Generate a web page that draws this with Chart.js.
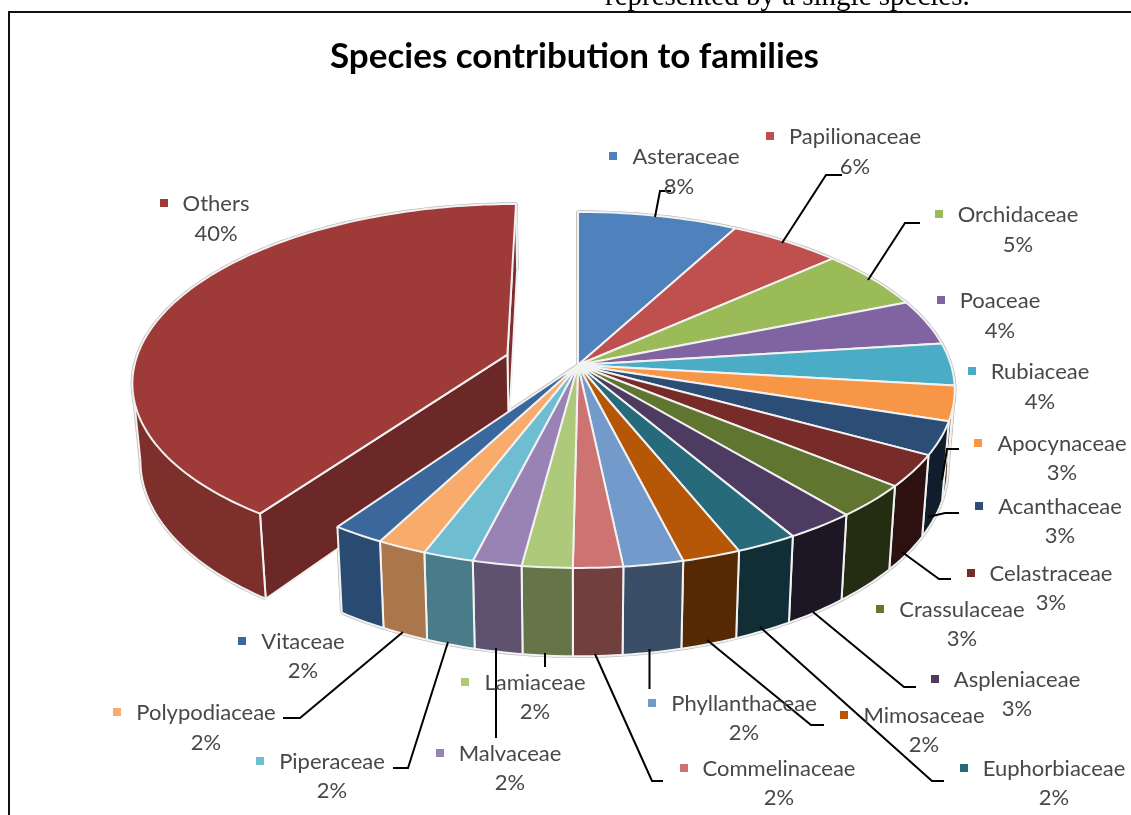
<!DOCTYPE html>
<html>
<head>
<meta charset="utf-8">
<title>Species contribution to families</title>
<style>
  html, body { margin: 0; padding: 0; background: #fff; overflow: hidden; }
  #wrap { position: relative; width: 1131px; height: 815px; }
</style>
<script src="https://cdn.jsdelivr.net/npm/chart.js@4/dist/chart.umd.min.js"></script>
</head>
<body>
<div id="wrap"><canvas id="pie"></canvas></div>
<script>
const families = ['Asteraceae', 'Papilionaceae', 'Orchidaceae', 'Poaceae', 'Rubiaceae', 'Apocynaceae', 'Acanthaceae',
    'Celastraceae', 'Crassulaceae', 'Aspleniaceae', 'Euphorbiaceae', 'Mimosaceae', 'Phyllanthaceae', 'Commelinaceae',
    'Lamiaceae', 'Malvaceae', 'Piperaceae', 'Polypodiaceae', 'Vitaceae', 'Others'];
const shares = [7.85, 5.55, 5.45, 4.15, 3.85, 3.15, 3.0, 2.9, 3.0, 2.65, 2.32, 2.21, 2.25, 1.86, 1.89, 1.84, 1.91, 1.87, 1.97, 40.33];
const sliceColors = ['#4f81bd', '#c0504d', '#9bbb59', '#8064a2', '#4bacc6', '#f79646', '#2c4d75', '#772c2a', '#5f7530',
    '#4d3b62', '#276a7c', '#b65708', '#729aca', '#cd7371', '#afc97a', '#9983b5', '#6fbdd1', '#f9ab6b', '#3a679c', '#9e3b38'];

// where each label sits: name centre x, name y, percent centre x, percent y
const labelSpots = {
    Asteraceae: [686, 157, 679, 187], Papilionaceae: [855, 137, 855, 167], Orchidaceae: [1018, 215, 1018, 245],
    Poaceae: [1000, 301, 1000, 331], Rubiaceae: [1040, 372, 1040, 402], Apocynaceae: [1062, 444, 1062, 473],
    Acanthaceae: [1060, 507, 1060, 536], Celastraceae: [1051, 574, 1051, 603], Crassulaceae: [962, 610, 962, 639],
    Aspleniaceae: [1017, 680, 1017, 709], Euphorbiaceae: [1054, 769, 1054, 798], Mimosaceae: [924, 716, 924, 745],
    Phyllanthaceae: [744, 704, 744, 733], Commelinaceae: [779, 769, 779, 798], Lamiaceae: [535, 683, 535, 712],
    Malvaceae: [510, 754, 510, 783], Piperaceae: [332, 762, 332, 791], Polypodiaceae: [206, 713, 206, 743],
    Vitaceae: [303, 642, 303, 671], Others: [216, 204, 216, 234]
};

// leader lines from the pie to the labels
const leaders = [
    [[655, 217], [660, 191], [671, 191]],
    [[782, 243], [826, 175], [842, 175]],
    [[868, 280], [905, 223], [920, 223]],
    [[942, 480], [947, 449], [959, 449]],
    [[928, 517], [945, 513], [959, 513]],
    [[902, 552], [939, 579], [951, 579]],
    [[813, 612], [904, 687], [916, 687]],
    [[760, 627], [932, 781], [944, 781]],
    [[707, 640], [811, 725], [824, 725]],
    [[649.5, 649], [649.5, 689]],
    [[595, 654], [652, 781], [663, 781]],
    [[545, 653], [545, 667]],
    [[496, 648], [496, 738]],
    [[448, 642], [408, 768], [393, 768]],
    [[403, 632], [300, 718], [283, 718]]
];

// the pie is a unit disc seen from above through a small perspective
const CAM = { cx: 578, cy: 365, rx: 373, ry: 174.5, k: 0.14, drop: 76, taper: 0.018 };
const EXPLODE = 0.2;
const EDGE = '#f2f2f2';
const FRINGE = '#bdbdbd';

function project(u, v, bottom) {
    const w = 1 + CAM.k * v;
    let x = CAM.cx + CAM.rx * u / w;
    let y = CAM.cy - CAM.ry * v / w;
    if (bottom) {
        x = CAM.cx + (x - CAM.cx) * (1 - CAM.taper);
        y += CAM.drop / w;
    }
    return [x, y];
}

function rim(a0, a1, shift, bottom) {
    const steps = Math.max(2, Math.ceil(Math.abs(a1 - a0) / 0.02));
    const pts = [];
    for (let i = 0; i <= steps; i++) {
        const a = a0 + (a1 - a0) * i / steps;
        pts.push(project(Math.cos(a) + shift[0], -Math.sin(a) + shift[1], bottom));
    }
    return pts;
}

function tracePath(ctx, pts, closed) {
    ctx.beginPath();
    pts.forEach((p, i) => i ? ctx.lineTo(p[0], p[1]) : ctx.moveTo(p[0], p[1]));
    if (closed) ctx.closePath();
}

function fillPoly(ctx, pts, fill) {
    tracePath(ctx, pts, true);
    ctx.fillStyle = fill;
    ctx.fill();
    ctx.strokeStyle = EDGE;
    ctx.lineWidth = 2;
    ctx.stroke();
}

function shade(hex, f) {
    const n = parseInt(hex.slice(1), 16);
    const c = [n >> 16, (n >> 8) & 255, n & 255].map(v => Math.round(v * f));
    return `rgb(${c[0]},${c[1]},${c[2]})`;
}

// the wall gets lighter toward the left, as in the office 3d pie
function wallFactor(midAngle) {
    const deg = (midAngle + Math.PI / 2) * 180 / Math.PI;
    return Math.min(0.76, Math.max(0.38, 0.38 + 0.0052 * (deg - 145)));
}

// outline of a wall: visible bottom rim, both ends and, where the wall turns away, the tangent line
function wallEdges(el, shift) {
    const top = rim(el.startAngle, el.endAngle, shift, false);
    const low = rim(el.startAngle, el.endAngle, shift, true);
    const n = top.length - 1;
    const right = top[0][0] > CAM.cx;
    let far = 0;
    top.forEach((p, i) => {
        if (right ? p[0] > top[far][0] : p[0] < top[far][0]) far = i;
    });
    const inside = far > 0 && far < n;
    const seen = !inside ? low : (right ? low.slice(far) : low.slice(0, far + 1));
    const edges = [seen, [top[0], low[0]], [top[n], low[n]]];
    if (inside) edges.push([top[far], low[far]]);
    return edges;
}

function area(pts) {
    return pts.reduce((sum, p, i) => {
        const q = pts[(i + 1) % pts.length];
        return sum + p[0] * q[1] - q[0] * p[1];
    }, 0);
}

// one path of same-way-round quads, so the part past the tangent point is covered with no seams
function drawWall(ctx, el, shift, color) {
    const top = rim(el.startAngle, el.endAngle, shift, false);
    const low = rim(el.startAngle, el.endAngle, shift, true);
    ctx.beginPath();
    for (let i = 0; i < top.length - 1; i++) {
        const quad = [top[i], top[i + 1], low[i + 1], low[i]];
        if (area(quad) < 0) quad.reverse();
        quad.forEach((p, j) => j ? ctx.lineTo(p[0], p[1]) : ctx.moveTo(p[0], p[1]));
        ctx.closePath();
    }
    ctx.fillStyle = color;
    ctx.fill();
    ctx.strokeStyle = EDGE;
    ctx.lineWidth = 2;
    wallEdges(el, shift).forEach(line => {
        tracePath(ctx, line, false);
        ctx.stroke();
    });
}

function topPts(el, shift) {
    return [project(shift[0], shift[1], false)].concat(rim(el.startAngle, el.endAngle, shift, false));
}

function cutPts(angle, shift) {
    const u = Math.cos(angle) + shift[0], v = -Math.sin(angle) + shift[1];
    return [project(shift[0], shift[1], false), project(u, v, false), project(u, v, true), project(shift[0], shift[1], true)];
}

const pie3d = {
    id: 'pie3d',
    // the arcs keep their angles from the library, only the drawing is replaced
    beforeDatasetDraw(chart, args) {
        const ctx = chart.ctx;
        const arcs = chart.getDatasetMeta(args.index).data;
        const last = arcs.length - 1;
        const other = arcs[last];
        const mid = (other.startAngle + other.endAngle) / 2;
        const shift = [Math.cos(mid) * EXPLODE, -Math.sin(mid) * EXPLODE];
        const otherColor = sliceColors[last];
        const main = arcs.slice(0, last);

        ctx.save();
        ctx.lineJoin = 'round';
        // soft grey fringe round the outline, everything else paints over it
        ctx.strokeStyle = FRINGE;
        ctx.lineWidth = 3.4;
        wallEdges(other, shift).concat(...main.map(el => wallEdges(el, [0, 0]))).forEach(line => {
            tracePath(ctx, line, false);
            ctx.stroke();
        });
        [topPts(other, shift)].concat(main.map(el => topPts(el, [0, 0]))).forEach(pts => {
            tracePath(ctx, pts, true);
            ctx.stroke();
        });

        fillPoly(ctx, cutPts(other.endAngle, shift), shade(otherColor, 0.8));
        fillPoly(ctx, cutPts(other.startAngle, shift), shade(otherColor, 0.68));
        drawWall(ctx, other, shift, shade(otherColor, 0.79));
        fillPoly(ctx, topPts(other, shift), otherColor);

        main.forEach((el, i) => {
            drawWall(ctx, el, [0, 0], shade(sliceColors[i], wallFactor((el.startAngle + el.endAngle) / 2)));
        });
        main.forEach((el, i) => fillPoly(ctx, topPts(el, [0, 0]), sliceColors[i]));
        ctx.restore();
        return false;
    },
    afterDatasetsDraw(chart) {
        const ctx = chart.ctx;
        ctx.save();

        // document frame and the line of body text cut off above the chart
        ctx.fillStyle = '#000';
        ctx.font = '29px "Liberation Serif"';
        ctx.textAlign = 'left';
        ctx.textBaseline = 'alphabetic';
        ctx.fillText('represented by a single species.', 605, 5);
        ctx.strokeStyle = '#111';
        ctx.lineWidth = 2;
        ctx.beginPath();
        ctx.moveTo(9, 815);
        ctx.lineTo(9, 12);
        ctx.lineTo(1131, 12);
        ctx.stroke();

        ctx.strokeStyle = '#000';
        ctx.lineWidth = 2;
        leaders.forEach(line => {
            tracePath(ctx, line, false);
            ctx.stroke();
        });

        ctx.font = '22px Lato';
        ctx.textBaseline = 'middle';
        ctx.textAlign = 'center';
        families.forEach((name, i) => {
            const [nx, ny, px, py] = labelSpots[name];
            const half = ctx.measureText(name).width / 2;
            ctx.fillStyle = sliceColors[i];
            ctx.fillRect(Math.round(nx - half - 23), Math.round(ny - 5), 8, 8);
            ctx.fillStyle = '#484848';
            ctx.fillText(name, nx, ny);
            ctx.fillText(Math.round(shares[i]) + '%', px, py);
        });
        ctx.restore();
    }
};

new Chart(document.getElementById('pie'), {
    type: 'pie',
    data: { labels: families, datasets: [{ data: shares, backgroundColor: sliceColors }] },
    plugins: [pie3d],
    options: {
        responsive: true,
        maintainAspectRatio: false,
        animation: false,
        layout: { padding: { left: 18, top: 36 } },
        plugins: {
            legend: { display: false },
            tooltip: { enabled: false },
            title: {
                display: true,
                text: 'Species contribution to families',
                color: '#000',
                font: { family: 'Lato', size: 35, weight: 'bold' },
                padding: { top: 0, bottom: 10 }
            }
        }
    }
});
</script>
</body>
</html>
